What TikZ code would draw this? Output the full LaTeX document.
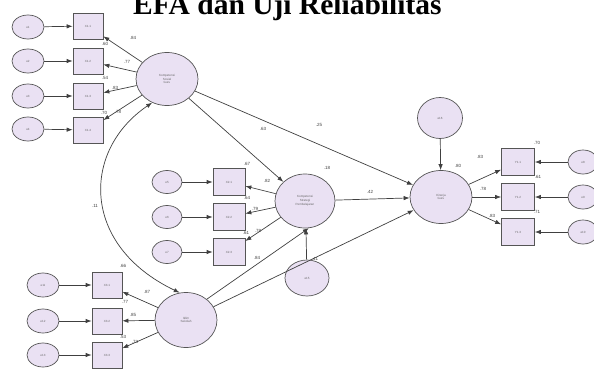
\documentclass[tikz,border=0pt]{standalone}
\usepackage{fontspec}
\setmainfont{Liberation Serif}
\newfontfamily\lbsans{Liberation Sans}
\usetikzlibrary{shapes.geometric,arrows.meta}
\definecolor{lav}{RGB}{234,225,243}
\definecolor{edgec}{RGB}{85,85,85}
\tikzset{
  errc/.style={ellipse, draw=edgec, fill=lav, line width=0.7pt, inner sep=0pt,
    minimum width=32pt, minimum height=24pt, font=\lbsans\fontsize{3}{3.5}\selectfont, text=black!60},
  obsbox/.style={rectangle, draw=edgec, fill=lav, line width=0.7pt, inner sep=0pt,
    minimum width=30pt, minimum height=26pt, font=\lbsans\fontsize{3}{3.5}\selectfont, text=black!60},
  latent/.style={ellipse, draw=edgec, fill=lav, line width=0.7pt, inner sep=0pt,
    minimum width=62pt, minimum height=53pt, align=center, font=\lbsans\fontsize{3}{3.8}\selectfont, text=black!60},
  arr/.style={draw=black!75, line width=0.7pt, -{Latex[length=6pt,width=4.4pt]}},
  lbl/.style={font=\lbsans\fontsize{4.5}{5}\selectfont, text=black!75, inner sep=0pt}
}
\begin{document}
\begin{tikzpicture}[x=1pt,y=-1pt]
\useasboundingbox (0,0) rectangle (594,369);
\node[font=\bfseries\fontsize{29.5}{30}\selectfont, anchor=base west, inner sep=0pt] (title) at (133,15) {EFA dan Uji Reliabilitas};

% top-left group
\node[errc] (e1) at (28,27) {e1};
\node[errc] (e2) at (28,61) {e2};
\node[errc] (e3) at (28,96) {e3};
\node[errc] (e4) at (28,129) {e4};
\node[obsbox] (b1) at (88,26) {X1.1};
\node[obsbox] (b2) at (88,61) {X1.2};
\node[obsbox] (b3) at (88,96) {X1.3};
\node[obsbox] (b4) at (88,130) {X1.4};
\node[latent] (L1) at (167,79) {Kompetensi\\Sosial\\Guru};

% middle group
\node[errc, minimum width=30pt, minimum height=23pt] (e5) at (167,182) {e5};
\node[errc, minimum width=30pt, minimum height=23pt] (e6) at (167,217) {e6};
\node[errc, minimum width=30pt, minimum height=23pt] (e7) at (167,252) {e7};
\node[obsbox, minimum width=32pt, minimum height=27pt] (b5) at (229,182) {X2.1};
\node[obsbox, minimum width=32pt, minimum height=27pt] (b6) at (229,217) {X2.2};
\node[obsbox, minimum width=32pt, minimum height=27pt] (b7) at (229,252) {X2.3};
\node[latent, minimum width=60pt, minimum height=54pt] (L2) at (305,201) {Kompetensi\\Strategi\\Pembelajaran};
\node[errc, minimum width=44pt, minimum height=36pt] (z1) at (307,278) {e15};

% right group
\node[errc, minimum width=45pt, minimum height=41pt] (z2) at (440,118) {e16};
\node[latent] (L3) at (441,197) {Kinerja\\Guru};
\node[obsbox, minimum width=33pt, minimum height=27pt] (b8) at (518,162) {Y1.1};
\node[obsbox, minimum width=33pt, minimum height=27pt] (b9) at (518,197) {Y1.2};
\node[obsbox, minimum width=33pt, minimum height=27pt] (b10) at (518,232) {Y1.3};
\node[errc, minimum width=30pt] (e8) at (583,162) {e8};
\node[errc, minimum width=30pt] (e9) at (583,197) {e9};
\node[errc, minimum width=30pt] (e10) at (583,232) {e10};

% bottom group
\node[errc] (e11) at (43,285) {e11};
\node[errc] (e12) at (43,321) {e12};
\node[errc] (e13) at (43,355) {e13};
\node[obsbox] (b11) at (107,285) {X3.1};
\node[obsbox] (b12) at (107,321) {X3.2};
\node[obsbox] (b13) at (107,355) {X3.3};
\node[latent, minimum height=55pt] (L4) at (186,320) {Iklim\\Sekolah};

% error arrows
\foreach \e/\b in {e1/b1,e2/b2,e3/b3,e4/b4,e5/b5,e6/b6,e7/b7,e8/b8,e9/b9,e10/b10,e11/b11,e12/b12,e13/b13}
  \draw[arr] (\e) -- (\b);
% loadings
\foreach \b in {b1,b2,b3,b4} \draw[arr] (L1) -- (\b);
\foreach \b in {b5,b6,b7} \draw[arr] (L2) -- (\b);
\foreach \b in {b8,b9,b10} \draw[arr] (L3) -- (\b);
\foreach \b in {b11,b12,b13} \draw[arr] (L4) -- (\b);
% structural paths
\draw[arr] (L1) -- (L2);
\draw[arr] (L1) -- (L3);
\draw[arr] (L2) -- (L3);
\draw[arr] (L4.45) -- (L2.278);
\draw[arr] (L4) -- (L3);
\draw[arr] (z1) -- (L2.272);
\draw[arr] (z2) -- (L3);
% covariance
\draw[draw=black!75, line width=0.7pt, {Latex[length=6pt,width=4.4pt]}-{Latex[length=6pt,width=4.4pt]}]
  (L1.238) .. controls (82,150) and (80,245) .. (L4.103);

% labels
\node[lbl] (l1) at (133,38) {.84};
\node[lbl] (l2) at (105,44) {.60};
\node[lbl] (l3) at (127,62) {.77};
\node[lbl] (l4) at (105,78) {.54};
\node[lbl] (l5) at (115,88) {.83};
\node[lbl] (l6) at (104,113) {.70};
\node[lbl] (l7) at (118,112) {.78};
\node[lbl] (l8) at (247,164) {.67};
\node[lbl] (l9) at (267,181) {.82};
\node[lbl] (l10) at (247,198) {.64};
\node[lbl] (l11) at (255,209) {.79};
\node[lbl] (l12) at (246,233) {.61};
\node[lbl] (l13) at (258,231) {.78};
\node[lbl] (l14) at (257,258) {.84};
\node[lbl] (l15) at (327,168) {.18};
\node[lbl] (l16) at (315,259) {.41};
\node[lbl] (l17) at (319,125) {.25};
\node[lbl] (l18) at (263,129) {.63};
\node[lbl] (l19) at (370,192) {.42};
\node[lbl] (l20) at (458,166) {.80};
\node[lbl] (l21) at (480,157) {.83};
\node[lbl] (l22) at (483,189) {.78};
\node[lbl] (l23) at (492,216) {.83};
\node[lbl] (l24) at (537,143) {.70};
\node[lbl] (l25) at (538,177) {.61};
\node[lbl] (l26) at (537,212) {.71};
\node[lbl] (l27) at (123,266) {.66};
\node[lbl] (l28) at (147,292) {.87};
\node[lbl] (l29) at (125,302) {.77};
\node[lbl] (l30) at (133,315) {.85};
\node[lbl] (l31) at (123,337) {.53};
\node[lbl] (l32) at (135,342) {.73};
\node[lbl] (l33) at (95,206) {.11};
\end{tikzpicture}
\end{document}
